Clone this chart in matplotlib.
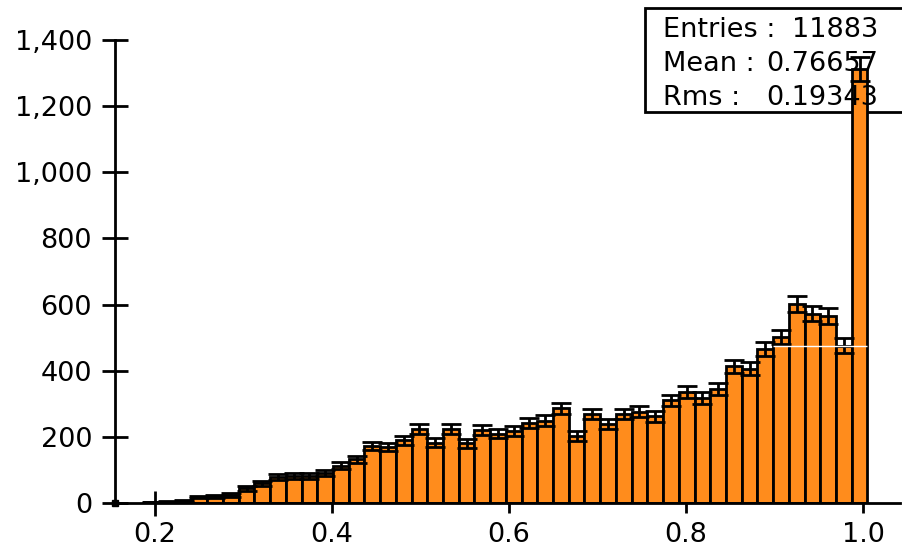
import matplotlib.pyplot as plt
from matplotlib.patches import Rectangle
from matplotlib.ticker import StrMethodFormatter
import numpy as np

# histogram
bin_lo = 0.188
bin_w = 0.01776
counts = [2, 4, 6, 18, 20, 24, 44, 60, 78, 82,
          82, 90, 113, 132, 172, 169, 190, 223, 182, 225,
          181, 222, 210, 217, 242, 249, 286, 202, 269, 239,
          269, 276, 262, 310, 335, 318, 344, 413, 406, 465,
          502, 601, 573, 566, 476, 1313]
stat_names = ["Entries :", "Mean :", "Rms :"]
stat_values = ["11883", "0.76657", "0.19343"]
xticks = [0.2, 0.4, 0.6, 0.8, 1.0]
yticks = [0, 200, 400, 600, 800, 1000, 1200, 1400]

counts = np.array(counts, dtype=float)
edges = bin_lo + bin_w * np.arange(len(counts) + 1)
centers = 0.5 * (edges[:-1] + edges[1:])
orange = '#FF8C1C'
fs = 19.5

plt.rcParams['font.family'] = ['DejaVu Sans']
fig = plt.figure(figsize=(9.02, 5.52), dpi=100)
ax = fig.add_axes([115/902, 1 - 503/552, 785/902, 463/552])

ax.bar(edges[:-1], counts, width=bin_w, align='edge', color=orange,
       edgecolor='black', linewidth=2.0, zorder=2)
ax.errorbar(centers, counts, yerr=np.sqrt(counts), fmt='none', ecolor='black',
            elinewidth=2.0, capsize=7, capthick=2.0, zorder=3)
ax.hlines(counts[44], edges[40], edges[46], color='white', linewidth=1, zorder=4)

ax.set_xlim(0.1548, 1.0418)
ax.set_ylim(0, 1400)
ax.set_xticks(xticks)
ax.set_yticks(yticks)
ax.yaxis.set_major_formatter(StrMethodFormatter('{x:,.0f}'))
ax.set_xticklabels([f'{t:.1f}' for t in xticks])

for s in ['top', 'right']:
    ax.spines[s].set_visible(False)
for s in ['left', 'bottom']:
    ax.spines[s].set_linewidth(2.0)
ax.tick_params(axis='y', direction='inout', length=19, width=2.0, labelsize=fs, pad=7)
ax.tick_params(axis='x', direction='out', length=7, width=2.0, labelsize=fs, pad=7)
t0 = ax.xaxis.get_major_ticks()[0]
t0.tick1line.set_marker('|')
t0.tick1line.set_markersize(18)

ax.plot([0], [0], 's', color='black', markersize=4.5, transform=ax.transAxes,
        clip_on=False, zorder=5)

# stats box, partly hidden behind the last bar
box = Rectangle((645/902, 1 - 112/552), 0.3, 104/552, transform=fig.transFigure,
                facecolor='white', edgecolor='black', linewidth=2.0, clip_on=False, zorder=1)
ax.add_patch(box)
for i, (n, v) in enumerate(zip(stat_names, stat_values)):
    yb = 1 - (37 + 34*i)/552
    ax.text(663/902, yb, n, transform=fig.transFigure, fontsize=fs, va='baseline',
            ha='left', zorder=6)
    ax.text(878/902, yb, v, transform=fig.transFigure, fontsize=fs, va='baseline',
            ha='right', zorder=6)

fig.savefig('out.png', dpi=100)
